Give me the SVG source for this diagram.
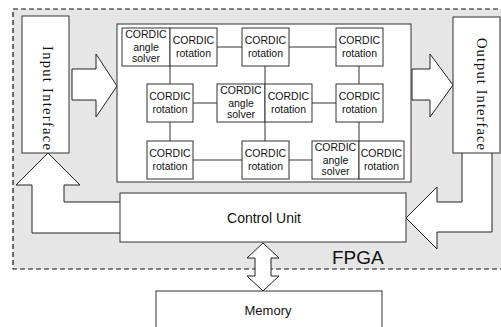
<svg xmlns="http://www.w3.org/2000/svg" width="501" height="327" viewBox="0 0 501 327">
  <defs>
    <style>
      .box { fill: #ffffff; stroke: #333333; stroke-width: 1; }
      .link { fill: none; stroke: #333333; stroke-width: 1; }
      .big-arrow { fill: #ffffff; stroke: #222222; stroke-width: 1; stroke-linejoin: miter; }
      .cell { font-family: "Liberation Sans", Arial, sans-serif; font-size: 10.5px; fill: #111111; text-anchor: middle; }
      .label { font-family: "Liberation Sans", Arial, sans-serif; fill: #111111; text-anchor: middle; }
      .iface { font-family: "Liberation Serif", "Times New Roman", serif; font-size: 14.5px; fill: #111111; text-anchor: middle; }
    </style>
  </defs>

  <rect x="0" y="0" width="501" height="327" fill="#ffffff"/>

  <!-- FPGA region -->
  <g id="fpga">
    <rect x="13" y="9" width="492" height="260" fill="#e6e6e6" stroke="#111111" stroke-width="1.2" stroke-dasharray="5 3"/>
    <text class="label" x="332" y="264" font-size="19" style="text-anchor:start">FPGA</text>
  </g>

  <!-- Block arrows -->
  <g id="connectors">
    <!-- input interface -> core -->
    <path class="big-arrow" d="M72,69 L96,69 L96,54 L117,86 L96,117 L96,100 L72,100 Z"/>
    <!-- core -> output interface -->
    <path class="big-arrow" d="M412,69 L430,69 L430,54 L453,85 L430,117 L430,100 L412,100 Z"/>
    <!-- output interface -> control unit -->
    <path class="big-arrow" d="M462,153 L462,202 L437,202 L437,187 L406,218 L437,249 L437,232 L492,232 L492,153"/>
    <!-- control unit -> input interface -->
    <path class="big-arrow" d="M120,202 L64,202 L64,185 L80,185 L48,153 L16,185 L32,185 L32,233 L120,233"/>
    <!-- control unit <-> memory -->
    <path class="big-arrow" d="M263,243 L279,258 L271,258 L271,276 L279,276 L263,291 L247,276 L255,276 L255,258 L247,258 Z"/>
  </g>

  <!-- Interfaces -->
  <g id="input-interface">
    <rect class="box" x="22" y="16" width="47" height="137"/>
    <text class="iface" transform="translate(43,98) rotate(90)" textLength="104" lengthAdjust="spacing">Input  Interface</text>
  </g>
  <g id="output-interface">
    <rect class="box" x="453" y="17" width="47" height="136"/>
    <text class="iface" transform="translate(477,94) rotate(90)" textLength="112" lengthAdjust="spacing">Output  Interface</text>
  </g>

  <!-- Control and memory -->
  <g id="control-unit">
    <rect class="box" x="120" y="193" width="286" height="49"/>
    <text class="label" x="264" y="223" font-size="14">Control Unit</text>
  </g>
  <g id="memory">
    <rect class="box" x="156" y="291" width="226" height="40"/>
    <text class="label" x="268" y="315" font-size="13">Memory</text>
  </g>

  <!-- CORDIC array -->
  <g id="cordic-array">
    <rect class="box" x="117" y="24" width="294" height="158"/>

    <g id="array-links">
      <line class="link" x1="217" y1="47" x2="242" y2="47"/>
      <line class="link" x1="289" y1="47" x2="336" y2="47"/>
      <line class="link" x1="170" y1="66" x2="170" y2="84"/>
      <line class="link" x1="265" y1="66" x2="265" y2="84"/>
      <line class="link" x1="359" y1="66" x2="359" y2="84"/>
      <line class="link" x1="193" y1="103" x2="217" y2="103"/>
      <line class="link" x1="312" y1="103" x2="336" y2="103"/>
      <line class="link" x1="170" y1="122" x2="170" y2="141"/>
      <line class="link" x1="265" y1="122" x2="265" y2="141"/>
      <line class="link" x1="359" y1="122" x2="359" y2="141"/>
      <line class="link" x1="193" y1="160" x2="242" y2="160"/>
      <line class="link" x1="289" y1="160" x2="312" y2="160"/>
    </g>

    <!-- row 1 -->
    <g id="solver-1">
      <rect class="box" x="122" y="28" width="48" height="38"/>
      <text class="cell" x="146" y="38">CORDIC</text>
      <text class="cell" x="146" y="50.5">angle</text>
      <text class="cell" x="146" y="62">solver</text>
    </g>
    <g id="rot-1a">
      <rect class="box" x="170" y="28" width="47" height="38"/>
      <text class="cell" x="193.5" y="44">CORDIC</text>
      <text class="cell" x="193.5" y="57">rotation</text>
    </g>
    <g id="rot-1b">
      <rect class="box" x="242" y="28" width="47" height="38"/>
      <text class="cell" x="265.5" y="44">CORDIC</text>
      <text class="cell" x="265.5" y="57">rotation</text>
    </g>
    <g id="rot-1c">
      <rect class="box" x="336" y="28" width="47" height="38"/>
      <text class="cell" x="359.5" y="44">CORDIC</text>
      <text class="cell" x="359.5" y="57">rotation</text>
    </g>

    <!-- row 2 -->
    <g id="rot-2a">
      <rect class="box" x="147" y="84" width="46" height="38"/>
      <text class="cell" x="170" y="100">CORDIC</text>
      <text class="cell" x="170" y="113">rotation</text>
    </g>
    <g id="solver-2">
      <rect class="box" x="217" y="84" width="48" height="38"/>
      <text class="cell" x="241" y="94">CORDIC</text>
      <text class="cell" x="241" y="106.5">angle</text>
      <text class="cell" x="241" y="118">solver</text>
    </g>
    <g id="rot-2b">
      <rect class="box" x="265" y="84" width="47" height="38"/>
      <text class="cell" x="288.5" y="100">CORDIC</text>
      <text class="cell" x="288.5" y="113">rotation</text>
    </g>
    <g id="rot-2c">
      <rect class="box" x="336" y="84" width="47" height="38"/>
      <text class="cell" x="359.5" y="100">CORDIC</text>
      <text class="cell" x="359.5" y="113">rotation</text>
    </g>

    <!-- row 3 -->
    <g id="rot-3a">
      <rect class="box" x="147" y="141" width="46" height="38"/>
      <text class="cell" x="170" y="157">CORDIC</text>
      <text class="cell" x="170" y="170">rotation</text>
    </g>
    <g id="rot-3b">
      <rect class="box" x="242" y="141" width="47" height="38"/>
      <text class="cell" x="265.5" y="157">CORDIC</text>
      <text class="cell" x="265.5" y="170">rotation</text>
    </g>
    <g id="solver-3">
      <rect class="box" x="312" y="141" width="47" height="38"/>
      <text class="cell" x="335.5" y="151">CORDIC</text>
      <text class="cell" x="335.5" y="163.5">angle</text>
      <text class="cell" x="335.5" y="175">solver</text>
    </g>
    <g id="rot-3c">
      <rect class="box" x="359" y="141" width="45" height="38"/>
      <text class="cell" x="381.5" y="157">CORDIC</text>
      <text class="cell" x="381.5" y="170">rotation</text>
    </g>
  </g>
</svg>
